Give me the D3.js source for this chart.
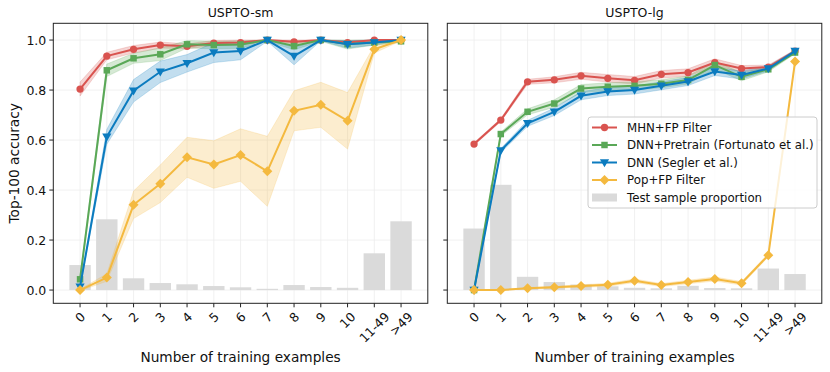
<!DOCTYPE html>
<html>
<head>
<meta charset="utf-8">
<script src="https://cdn.jsdelivr.net/npm/d3@7"></script>
<style>
  body { margin: 0; background: #fff; }
  svg { font-family: "DejaVu Sans", sans-serif; }
</style>
</head>
<body>
<svg id="chart" width="830" height="372"></svg>
<script>
const categories = ["0", "1", "2", "3", "4", "5", "6", "7", "8", "9", "10", "11-49", ">49"];
const yTicks = [0, 0.2, 0.4, 0.6, 0.8, 1.0];

// USPTO-sm
const smMHN      = [0.804, 0.936, 0.963, 0.980, 0.975, 0.988, 0.990, 1.000, 0.993, 1.000, 0.990, 1.000, 1.000];
const smMHNErr   = [0.028, 0.015, 0.015, 0.012, 0.010, 0.010, 0.010, 0.004, 0.008, 0.004, 0.008, 0.004, 0.003];
const smPre      = [0.043, 0.879, 0.927, 0.943, 0.983, 0.980, 0.982, 1.000, 0.976, 1.000, 0.984, 0.990, 0.995];
const smPreErr   = [0.010, 0.025, 0.020, 0.025, 0.015, 0.015, 0.015, 0.005, 0.015, 0.005, 0.020, 0.010, 0.005];
const smDNN      = [0.013, 0.613, 0.797, 0.873, 0.907, 0.950, 0.956, 1.000, 0.936, 1.000, 0.983, 0.990, 1.000];
const smDNNErr   = [0.005, 0.030, 0.045, 0.043, 0.035, 0.040, 0.035, 0.005, 0.035, 0.003, 0.015, 0.010, 0.003];
const smPop      = [0.000, 0.050, 0.341, 0.425, 0.531, 0.502, 0.540, 0.475, 0.717, 0.741, 0.677, 0.963, 1.000];
const smPopErr   = [0.003, 0.015, 0.055, 0.075, 0.080, 0.095, 0.105, 0.140, 0.080, 0.090, 0.113, 0.015, 0.003];
const smBars     = [0.100, 0.283, 0.047, 0.028, 0.023, 0.016, 0.011, 0.005, 0.020, 0.012, 0.009, 0.147, 0.275];

// USPTO-lg
const lgMHN      = [0.584, 0.680, 0.833, 0.841, 0.857, 0.847, 0.839, 0.863, 0.870, 0.910, 0.886, 0.892, 0.956];
const lgMHNErr   = [0.005, 0.006, 0.010, 0.012, 0.014, 0.015, 0.015, 0.015, 0.015, 0.015, 0.012, 0.008, 0.005];
const lgPre      = [0.000, 0.624, 0.713, 0.746, 0.806, 0.813, 0.817, 0.825, 0.840, 0.900, 0.853, 0.883, 0.950];
const lgPreErr   = [0.003, 0.008, 0.012, 0.015, 0.016, 0.016, 0.016, 0.016, 0.016, 0.016, 0.016, 0.010, 0.005];
const lgDNN      = [0.000, 0.558, 0.667, 0.713, 0.777, 0.794, 0.800, 0.817, 0.834, 0.874, 0.860, 0.886, 0.956];
const lgDNNErr   = [0.003, 0.008, 0.012, 0.015, 0.016, 0.016, 0.016, 0.016, 0.016, 0.016, 0.016, 0.010, 0.005];
const lgPop      = [0.000, 0.000, 0.007, 0.011, 0.016, 0.021, 0.037, 0.020, 0.032, 0.044, 0.027, 0.139, 0.914];
const lgPopErr   = [0.001, 0.001, 0.003, 0.004, 0.005, 0.006, 0.007, 0.006, 0.007, 0.008, 0.007, 0.006, 0.006];
const lgBars     = [0.246, 0.421, 0.053, 0.032, 0.022, 0.015, 0.009, 0.007, 0.017, 0.008, 0.007, 0.086, 0.064];

const seriesNames = ["MHN+FP Filter", "DNN+Pretrain (Fortunato et al.)", "DNN (Segler et al.)", "Pop+FP Filter"];
const seriesColors = ["#d9534f", "#5aa857", "#0b7bbf", "#f4b93f"];
const seriesSymbols = ["circle", "square", "triDown", "diamond"];
const barColor = "#dadada";

const svg = d3.select("#chart");
const plotTop = 23.3, plotBottom = 303.3;

const yScale = d3.scaleLinear().domain([-0.053, 1.067]).range([plotBottom, plotTop]);

const markerPath = (sym) => {
    if (sym === "triDown") return "M-4.6,-3.3L4.6,-3.3L0,4.7Z";
    if (sym === "diamond") return "M0,-5L5,0L0,5L-5,0Z";
    if (sym === "square") return d3.symbol(d3.symbolSquare, 42)();
    return d3.symbol(d3.symbolCircle, 42)();
};

const drawPanel = (x0, x1, title, series, bars, showYLabels) => {
    const xScale = d3.scaleLinear().domain([-1, 13]).range([x0, x1]);
    const g = svg.append("g");

    // grid
    g.selectAll(".gx").data(categories).join("line")
        .attr("x1", (d, i) => xScale(i)).attr("x2", (d, i) => xScale(i))
        .attr("y1", plotTop).attr("y2", plotBottom)
        .attr("stroke", "#ececec").attr("stroke-width", 0.8);
    g.selectAll(".gy").data(yTicks).join("line")
        .attr("x1", x0).attr("x2", x1)
        .attr("y1", d => yScale(d)).attr("y2", d => yScale(d))
        .attr("stroke", "#ececec").attr("stroke-width", 0.8);

    // bars
    g.selectAll(".bar").data(bars).join("rect")
        .attr("x", (d, i) => xScale(i - 0.4))
        .attr("width", xScale(0.8) - xScale(0))
        .attr("y", d => yScale(d))
        .attr("height", d => yScale(0) - yScale(d))
        .attr("fill", barColor);

    // bands
    series.forEach((s, k) => {
        const area = d3.area()
            .x((d, i) => xScale(i))
            .y0((d, i) => yScale(Math.max(-0.05, d - s.err[i])))
            .y1((d, i) => yScale(Math.min(1.0, d + s.err[i])));
        g.append("path").datum(s.values)
            .attr("d", area)
            .attr("fill", seriesColors[k]).attr("fill-opacity", 0.25)
            .attr("stroke", seriesColors[k]).attr("stroke-opacity", 0.25).attr("stroke-width", 0.8);
    });

    // lines + markers
    series.forEach((s, k) => {
        const line = d3.line().x((d, i) => xScale(i)).y(d => yScale(d));
        g.append("path").datum(s.values)
            .attr("d", line)
            .attr("fill", "none")
            .attr("stroke", seriesColors[k]).attr("stroke-width", 2);
        g.selectAll(null).data(s.values).join("path")
            .attr("transform", (d, i) => `translate(${xScale(i)},${yScale(d)})`)
            .attr("d", markerPath(seriesSymbols[k]))
            .attr("fill", seriesColors[k]);
    });

    // frame
    g.append("rect")
        .attr("x", x0).attr("y", plotTop)
        .attr("width", x1 - x0).attr("height", plotBottom - plotTop)
        .attr("fill", "none").attr("stroke", "#222").attr("stroke-width", 1);

    // y ticks
    g.selectAll(".yt").data(yTicks).join("line")
        .attr("x1", x0 - 4).attr("x2", x0)
        .attr("y1", d => yScale(d)).attr("y2", d => yScale(d))
        .attr("stroke", "#222");
    if (showYLabels) {
        g.selectAll(".yl").data(yTicks).join("text")
            .attr("x", x0 - 7).attr("y", d => yScale(d))
            .attr("dy", "0.36em")
            .attr("text-anchor", "end")
            .attr("font-size", 12.5)
            .attr("fill", "#111")
            .text(d => d.toFixed(1));
    }

    // x ticks
    g.selectAll(".xt").data(categories).join("line")
        .attr("x1", (d, i) => xScale(i)).attr("x2", (d, i) => xScale(i))
        .attr("y1", plotBottom).attr("y2", plotBottom + 4)
        .attr("stroke", "#222");
    const labels = g.selectAll(".xl").data(categories).join("text")
        .attr("font-size", 12.5)
        .attr("fill", "#111")
        .attr("text-anchor", "middle")
        .attr("dominant-baseline", "central")
        .text(d => d);
    labels.each(function(d, i) {
        const w = this.getComputedTextLength();
        const h = 9;
        const half = (w + h) * Math.SQRT1_2 / 2;
        const cx = xScale(i), cy = plotBottom + 8 + half;
        d3.select(this).attr("transform", `translate(${cx},${cy}) rotate(-45)`);
    });

    // titles
    svg.append("text")
        .attr("x", (x0 + x1) / 2).attr("y", 17)
        .attr("text-anchor", "middle")
        .attr("font-size", 12.5).attr("fill", "#111")
        .text(title);
    svg.append("text")
        .attr("x", (x0 + x1) / 2).attr("y", 362)
        .attr("text-anchor", "middle")
        .attr("font-size", 13.7).attr("fill", "#111")
        .text("Number of training examples");
};

drawPanel(53.3, 427.8, "USPTO-sm", [
    { values: smMHN, err: smMHNErr },
    { values: smPre, err: smPreErr },
    { values: smDNN, err: smDNNErr },
    { values: smPop, err: smPopErr }
], smBars, true);

drawPanel(447.3, 821.8, "USPTO-lg", [
    { values: lgMHN, err: lgMHNErr },
    { values: lgPre, err: lgPreErr },
    { values: lgDNN, err: lgDNNErr },
    { values: lgPop, err: lgPopErr }
], lgBars, false);

// y axis title
svg.append("text")
    .attr("transform", `translate(14,${(plotTop + plotBottom) / 2}) rotate(-90)`)
    .attr("text-anchor", "middle")
    .attr("dominant-baseline", "central")
    .attr("font-size", 13.7).attr("fill", "#111")
    .text("Top-100 accuracy");

// legend
const legend = svg.append("g").attr("transform", "translate(588,117)");
legend.append("rect")
    .attr("width", 229).attr("height", 91)
    .attr("rx", 3)
    .attr("fill", "#fff").attr("fill-opacity", 0.8)
    .attr("stroke", "#ccc");
const legendItems = seriesNames.concat(["Test sample proportion"]);
legendItems.forEach((name, k) => {
    const yy = 10.5 + k * 17.5;
    const row = legend.append("g").attr("transform", `translate(0,${yy})`);
    if (k < 4) {
        row.append("line")
            .attr("x1", 4).attr("x2", 29)
            .attr("stroke", seriesColors[k]).attr("stroke-width", 2);
        row.append("path")
            .attr("transform", "translate(16.5,0)")
            .attr("d", markerPath(seriesSymbols[k]))
            .attr("fill", seriesColors[k]);
    } else {
        row.append("rect")
            .attr("x", 4).attr("y", -4).attr("width", 25).attr("height", 8)
            .attr("fill", barColor);
    }
    row.append("text")
        .attr("x", 39).attr("dy", "0.36em")
        .attr("font-size", 11.8).attr("fill", "#111")
        .text(name);
});
</script>
</body>
</html>
